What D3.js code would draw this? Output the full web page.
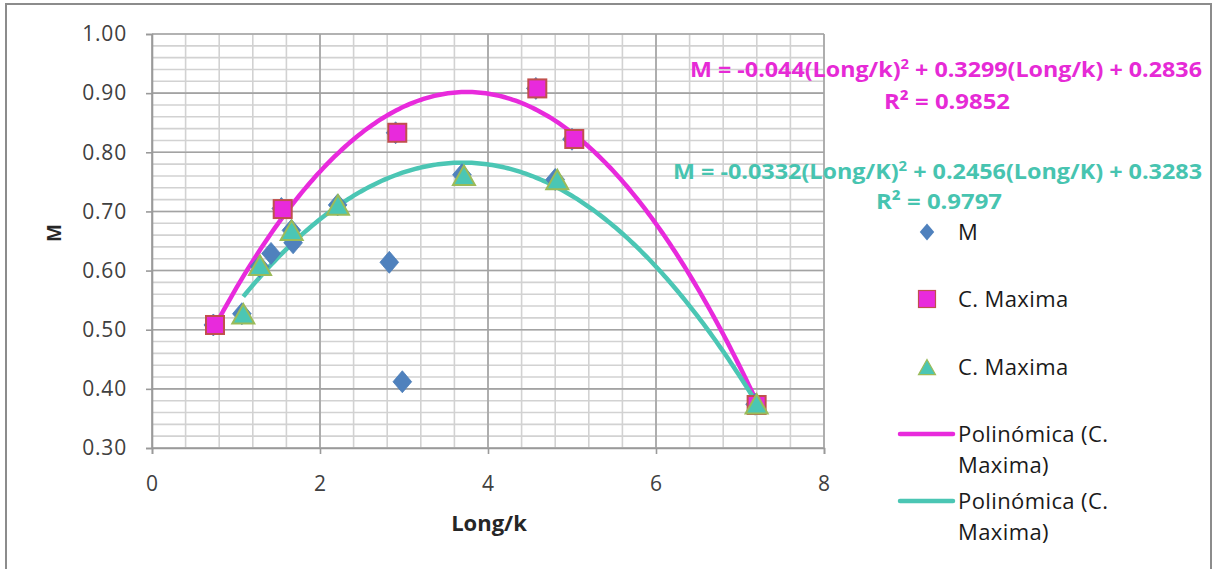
<!DOCTYPE html>
<html>
<head>
<meta charset="utf-8">
<script src="https://cdn.jsdelivr.net/npm/d3@7"></script>
<style>
  html, body { margin: 0; padding: 0; background: #fff; }
  svg { display: block; }
  text { font-family: "Open Sans", "Noto Sans", sans-serif; }
</style>
</head>
<body>
<svg id="chart" width="1214" height="569"></svg>
<script>
// Measured points: M (all samples), and the two C. Maxima subsets
const mX = [0.73, 1.07, 1.28, 1.417, 1.54, 1.66, 1.68, 2.21, 2.825, 2.9, 2.98, 3.69, 4.57, 4.8, 5.0, 7.18];
const mY = [0.508, 0.527, 0.607, 0.629, 0.705, 0.668, 0.647, 0.711, 0.614, 0.833, 0.412, 0.762, 0.908, 0.754, 0.822, 0.374];

const maxAX = [0.75, 1.556, 2.92, 4.587, 5.027, 7.198];
const maxAY = [0.508, 0.704, 0.833, 0.908, 0.8225, 0.3727];

const maxBX = [1.087, 1.286, 1.663, 2.214, 3.714, 4.825, 7.198];
const maxBY = [0.525, 0.607, 0.666, 0.709, 0.759, 0.752, 0.3727];

// Second-order trendline coefficients [a, b, c] for a*x^2 + b*x + c
const fitA = [-0.044, 0.3299, 0.2836];
const fitB = [-0.0332, 0.2456, 0.3283];
const fitARange = [0.75, 7.198];
const fitBRange = [1.087, 7.198];

const xTicks = [0, 2, 4, 6, 8];
const yTicks = [0.3, 0.4, 0.5, 0.6, 0.7, 0.8, 0.9, 1.0];

const legendLabels = ["M", "C. Maxima", "C. Maxima", "Polinómica (C.|Maxima)", "Polinómica (C.|Maxima)"];

const C = {
  blue: "#4f81bd",
  magenta: "#e82adc",
  squareEdge: "#c0504d",
  teal: "#4bc6b4",
  triEdge: "#9bbb59",
  eqMagenta: "#e62ad6",
  eqTeal: "#47c4b0"
};

const svg = d3.select("#chart");

// outer chart frame
svg.append("path")
  .attr("d", "M6,575 L6,4 L1211,4 L1211,575")
  .attr("fill", "none").attr("stroke", "#8c8c8c").attr("stroke-width", 2);

const x = d3.scaleLinear().domain([0, 8]).range([152, 824]);
const y = d3.scaleLinear().domain([0.3, 1.0]).range([448, 34]);

const grid = svg.append("g");
// minor grid
const yMinor = d3.range(0.3, 1.0001, 0.02);
const xMinor = d3.range(0, 8.0001, 0.4);
grid.selectAll(".hmin").data(yMinor).join("line")
  .attr("x1", x(0)).attr("x2", x(8))
  .attr("y1", d => y(d)).attr("y2", d => y(d))
  .attr("stroke", "#d2d2d2").attr("stroke-width", 1.6);
grid.selectAll(".vmin").data(xMinor).join("line")
  .attr("y1", y(0.3)).attr("y2", y(1.0))
  .attr("x1", d => x(d)).attr("x2", d => x(d))
  .attr("stroke", "#d2d2d2").attr("stroke-width", 1.6);
// major grid
grid.selectAll(".hmaj").data(yTicks).join("line")
  .attr("x1", x(0)).attr("x2", x(8))
  .attr("y1", d => y(d)).attr("y2", d => y(d))
  .attr("stroke", "#a3a3a3").attr("stroke-width", 1.6);
grid.selectAll(".vmaj").data(xTicks).join("line")
  .attr("y1", y(0.3)).attr("y2", y(1.0))
  .attr("x1", d => x(d)).attr("x2", d => x(d))
  .attr("stroke", "#a3a3a3").attr("stroke-width", 1.6);

// axes
const yAxis = d3.axisLeft(y).tickValues(yTicks).tickFormat(d3.format(".2f")).tickSize(6).tickPadding(19);
const xAxis = d3.axisBottom(x).tickValues(xTicks).tickFormat(d3.format("d")).tickSize(6).tickPadding(22);

const gy = svg.append("g").attr("transform", `translate(${x(0)},0)`).call(yAxis);
const gx = svg.append("g").attr("transform", `translate(0,${y(0.3)})`).call(xAxis);
[gx, gy].forEach(g => {
  g.select(".domain").attr("stroke", "#9a9a9a").attr("stroke-width", 1.6);
  g.selectAll(".tick line").attr("stroke", "#9a9a9a").attr("stroke-width", 1.6);
  g.selectAll(".tick text").attr("fill", "#404040").style("font-size", "21px")
    .style("letter-spacing", "0.8px")
    .style("font-family", "'Open Sans', sans-serif");
});

// axis titles
svg.append("text").attr("x", 489).attr("y", 531).attr("text-anchor", "middle")
  .style("font-size", "22px").style("font-weight", "bold").attr("fill", "#262626").text("Long/k");
svg.append("text").attr("transform", "translate(61,233) rotate(-90)").attr("text-anchor", "middle")
  .style("font-size", "19px").style("font-weight", "bold").attr("fill", "#262626").text("M");

// trendlines
function curvePts(coef, range) {
  return d3.range(0, 201).map(i => {
    const t = range[0] + (range[1] - range[0]) * i / 200;
    return [t, coef[0] * t * t + coef[1] * t + coef[2]];
  });
}
const line = d3.line().x(d => x(d[0])).y(d => y(d[1])).curve(d3.curveLinear);

svg.append("path").datum(curvePts(fitA, fitARange)).attr("d", line)
  .attr("fill", "none").attr("stroke", C.magenta).attr("stroke-width", 4.5);
svg.append("path").datum(curvePts(fitB, fitBRange)).attr("d", line)
  .attr("fill", "none").attr("stroke", C.teal).attr("stroke-width", 4.5);

// markers
function diamondPath(cx, cy, r) {
  return `M${cx},${cy - r}L${cx + r * 0.85},${cy}L${cx},${cy + r}L${cx - r * 0.85},${cy}Z`;
}
function triPath(cx, cy, r) {
  return `M${cx},${cy - r}L${cx + r * 1.0},${cy + r * 0.78}L${cx - r * 1.0},${cy + r * 0.78}Z`;
}

const mData = mX.map((v, i) => [v, mY[i]]);
const aData = maxAX.map((v, i) => [v, maxAY[i]]);
const bData = maxBX.map((v, i) => [v, maxBY[i]]);

svg.append("g").selectAll("path").data(mData).join("path")
  .attr("d", d => diamondPath(x(d[0]), y(d[1]), 11))
  .attr("fill", C.blue).attr("stroke", "#4a7cb8").attr("stroke-width", 0.8);

svg.append("g").selectAll("rect").data(aData).join("rect")
  .attr("x", d => x(d[0]) - 9).attr("y", d => y(d[1]) - 9)
  .attr("width", 18).attr("height", 18)
  .attr("fill", C.magenta).attr("stroke", C.squareEdge).attr("stroke-width", 2);

svg.append("g").selectAll("path").data(bData).join("path")
  .attr("d", d => triPath(x(d[0]), y(d[1]), 11))
  .attr("fill", C.teal).attr("stroke", C.triEdge).attr("stroke-width", 2);

// trendline equations
function equation(txt, cx, cy, color, width) {
  const t = svg.append("text").attr("x", cx).attr("y", cy).attr("text-anchor", "middle")
    .style("font-size", "22px").style("font-weight", "bold").attr("fill", color);
  txt.forEach(p => {
    const s = t.append("tspan").text(p.t);
    if (p.sup) s.attr("dy", -8).style("font-size", "14px");
    if (p.after) s.attr("dy", 8);
  });
  if (width) t.attr("textLength", width).attr("lengthAdjust", "spacingAndGlyphs");
}
equation([{t: "M = -0.044(Long/k)"}, {t: "2", sup: true}, {t: " + 0.3299(Long/k) + 0.2836", after: true}],
  946, 77, C.eqMagenta, 512);
equation([{t: "R² = 0.9852"}], 947, 109, C.eqMagenta, 126);
equation([{t: "M = -0.0332(Long/K)"}, {t: "2", sup: true}, {t: " + 0.2456(Long/K) + 0.3283", after: true}],
  937.5, 179, C.eqTeal, 529);
equation([{t: "R² = 0.9797"}], 939, 209, C.eqTeal, 126);

// legend
const lg = svg.append("g");
const lgY = [232, 299, 367, 434, 501];
lg.append("path").attr("d", diamondPath(927, lgY[0], 8.5)).attr("fill", C.blue);
lg.append("rect").attr("x", 918.5).attr("y", lgY[1] - 8.5).attr("width", 17).attr("height", 17)
  .attr("fill", C.magenta).attr("stroke", C.squareEdge).attr("stroke-width", 1.2);
lg.append("path").attr("d", triPath(927, lgY[2] + 1, 8.5)).attr("fill", C.teal)
  .attr("stroke", C.triEdge).attr("stroke-width", 1.2);
lg.append("line").attr("x1", 900).attr("x2", 953).attr("y1", lgY[3]).attr("y2", lgY[3])
  .attr("stroke", C.magenta).attr("stroke-width", 4.5).attr("stroke-linecap", "round");
lg.append("line").attr("x1", 900).attr("x2", 953).attr("y1", lgY[4]).attr("y2", lgY[4])
  .attr("stroke", C.teal).attr("stroke-width", 4.5).attr("stroke-linecap", "round");

legendLabels.forEach((lab, i) => {
  const parts = lab.split("|");
  const t = lg.append("text").attr("x", 958).attr("y", lgY[i] + 8)
    .style("font-size", "22px").style("letter-spacing", "0.4px").attr("fill", "#1a1a1a");
  parts.forEach((p, j) => {
    t.append("tspan").attr("x", 958).attr("dy", j === 0 ? 0 : 31).text(p);
  });
});
</script>
</body>
</html>
